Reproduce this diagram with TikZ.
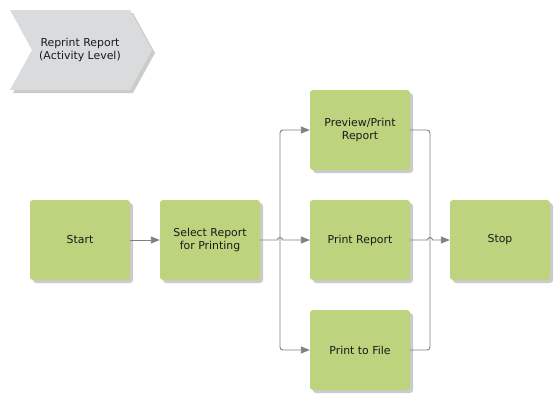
\documentclass[tikz,border=0pt]{standalone}
\usepackage{fontspec}
\setmainfont{DejaVu Sans}
\usetikzlibrary{arrows.meta,shadows}
\definecolor{boxgreen}{HTML}{BDD37D}
\definecolor{chevgray}{HTML}{DADBDC}
\definecolor{linegray}{HTML}{808080}
\definecolor{shadowgray}{HTML}{BEBEBE}
\definecolor{txt}{HTML}{1A1A1A}
\begin{document}
\begin{tikzpicture}[x=1pt,y=-1pt,
  stepbox/.style={draw=none,fill=boxgreen,rounded corners=3pt,minimum width=100pt,minimum height=80pt,
    align=center,text=txt,font=\fontsize{10.9}{13}\selectfont,inner sep=0pt,
    drop shadow={shadow xshift=3pt,shadow yshift=-3pt,fill=shadowgray,opacity=0.8}},
  conn/.style={draw=linegray,line width=0.9pt,rounded corners=3pt},
  hopline/.style={draw=linegray,line width=0.9pt},
  arr/.style={-{Triangle[length=9pt,width=7pt]},linegray}]
\useasboundingbox (0,0) rectangle (560,400);
% chevron
\fill[shadowgray,opacity=0.8] (13,13) -- (133,13) -- (155,53) -- (133,93) -- (13,93) -- (35,53) -- cycle;
\fill[chevgray] (10,10) -- (130,10) -- (152,50) -- (130,90) -- (10,90) -- (32,50) -- cycle;
\node[align=center,text=txt,font=\fontsize{10.9}{13}\selectfont] (title) at (80,50) {Reprint Report\\(Activity Level)};
% boxes
\node[stepbox] (start) at (80,240) {Start};
\node[stepbox] (sel) at (210,240) {Select Report\\for Printing};
\node[stepbox] (prev) at (360,130) {Preview/Print\\Report};
\node[stepbox] (pr) at (360,240) {Print Report};
\node[stepbox] (file) at (360,350) {Print to File};
\node[stepbox] (stop) at (500,240) {Stop};
\coordinate (j1) at (280,240);
\coordinate (j2) at (430,240);
% connectors
\draw[conn,arr] (start.east) -- (sel.west);
\draw[conn,arr] (j1) |- (prev.west);
\draw[conn,arr] (j1) |- (file.west);
\draw[hopline,arr] (sel.east) -- ([xshift=-2.5pt]j1) arc (180:0:2.5pt) -- (pr.west);
\draw[conn] (prev.east) -| (j2);
\draw[conn] (file.east) -| (j2);
\draw[hopline,arr] (pr.east) -- ([xshift=-2.5pt]j2) arc (180:0:2.5pt) -- (stop.west);
\end{tikzpicture}
\end{document}
